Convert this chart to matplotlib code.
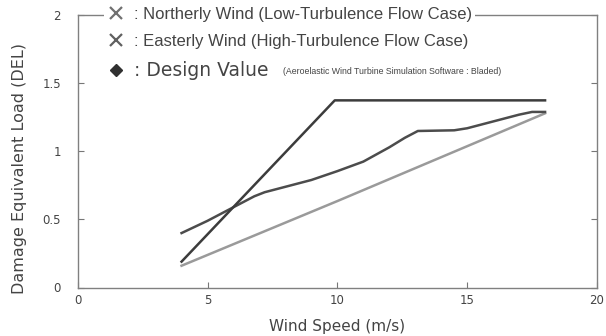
import numpy as np
import matplotlib
matplotlib.use('Agg')
import matplotlib.pyplot as plt
from matplotlib.lines import Line2D
from matplotlib import font_manager

# datos
v_a = [4, 9.9, 18]
del_a = [0.19, 1.375, 1.375]

v_b = [4, 5, 6, 6.8, 7.2, 8, 9, 10, 11, 12, 12.6, 13.1, 14.5, 15, 16, 17, 17.5, 18]
del_b = [0.40, 0.49, 0.59, 0.67, 0.70, 0.74, 0.79, 0.855, 0.925, 1.03, 1.10, 1.15, 1.155, 1.17, 1.22, 1.27, 1.29, 1.29]

v_c = [4, 10, 18]
del_c = [0.16, 0.635, 1.28]

x_ticks = [0, 5, 10, 15, 20]
y_ticks = [0, 0.5, 1, 1.5, 2]
y_tick_labels = ['0', '0.5', '1', '1.5', '2']

nombres = [': Northerly Wind (Low-Turbulence Flow Case)',
           ': Easterly Wind (High-Turbulence Flow Case)',
           ': Design Value']
nota = '(Aeroelastic Wind Turbine Simulation Software : Bladed)'

disponibles = set(f.name for f in font_manager.fontManager.ttflist)
angosta = 'Liberation Sans Narrow' if 'Liberation Sans Narrow' in disponibles else 'Liberation Sans'

fig = plt.figure(figsize=(6.06, 3.36), dpi=100)
ax = fig.add_axes([77.7/606, 1-287.5/336, (597-77.7)/606, (287.5-15.3)/336])

ax.plot(v_c, del_c, color='#9a9a9a', lw=1.8)
ax.plot(v_b, del_b, color='#4c4c4c', lw=1.8)
ax.plot(v_a, del_a, color='#3c3c3c', lw=1.8)

ax.set_xlim(0, 20)
ax.set_ylim(0, 2)
ax.set_xticks(x_ticks)
ax.set_yticks(y_ticks)
ax.set_yticklabels(y_tick_labels)
ax.tick_params(direction='in', length=4, width=0.8, colors='#777777', labelcolor='#444444',
               labelsize=8.5, right=True, top=False)
ax.tick_params(axis='y', pad=12)
ax.tick_params(axis='x', pad=5)
for s in ax.spines.values():
    s.set_color('#808080')
    s.set_linewidth(1)

ax.set_xlabel('Wind Speed (m/s)', fontsize=11, color='#444444', labelpad=8)
fig.text(20/606, 1-168/336, 'Damage Equivalent Load (DEL)', rotation=90, fontsize=11.5,
         color='#444444', ha='center', va='center')

h = [Line2D([], [], ls='none', marker='x', color='#707070', markersize=8, mew=1.6),
     Line2D([], [], ls='none', marker='x', color='#606060', markersize=8, mew=1.6),
     Line2D([], [], ls='none', marker='D', color='#303030', markersize=6.5)]
leg = ax.legend(h, nombres, loc='upper left', bbox_to_anchor=(104/606, 1-4/336),
                bbox_transform=fig.transFigure, frameon=True, fancybox=False,
                facecolor='white', edgecolor='none', framealpha=1,
                prop={'family': angosta, 'size': 12}, labelspacing=0.7,
                handlelength=1.0, handletextpad=0.6, borderpad=0.2, borderaxespad=0)
for t in leg.get_texts():
    t.set_color('#444444')
leg.get_texts()[2].set_family('DejaVu Sans')
leg.get_texts()[2].set_fontsize(13.5)

fig.text(283/606, 1-72/336, nota, fontsize=6.3, family=angosta, color='#444444', va='center')

fig.savefig('out.png', dpi=100)
